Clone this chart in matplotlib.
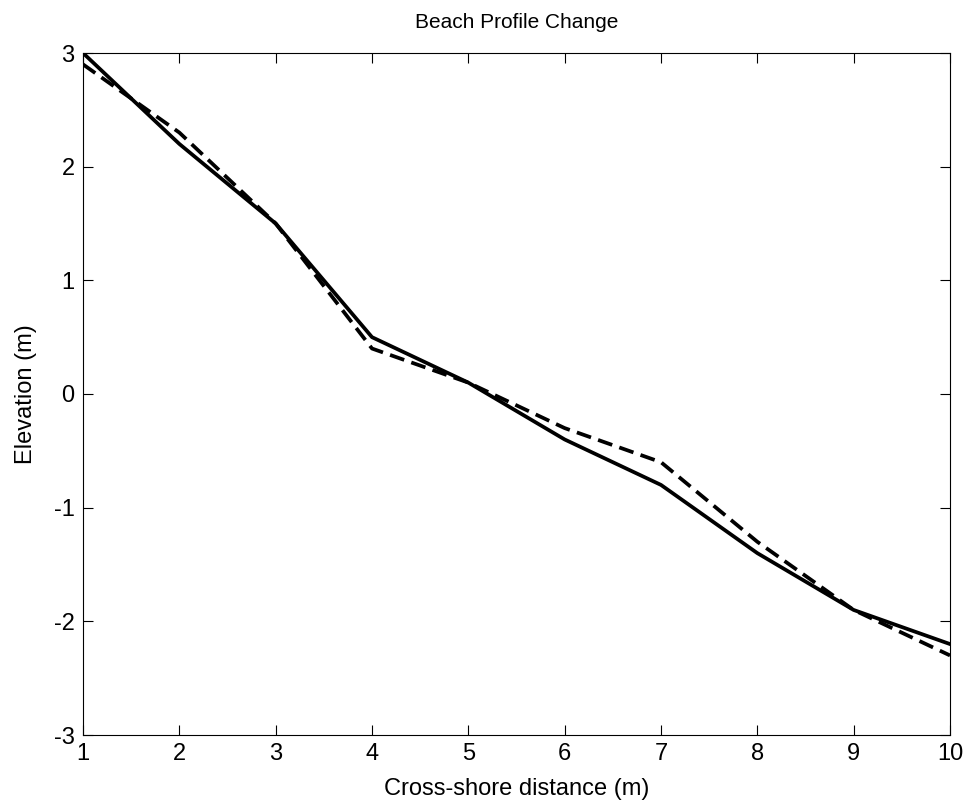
import matplotlib
matplotlib.use("Agg")
import matplotlib.pyplot as plt

plt.rcParams['font.family'] = ['Liberation Sans', 'DejaVu Sans']
plt.rcParams['axes.unicode_minus'] = False

distance = [1, 2, 3, 4, 5, 6, 7, 8, 9, 10]
profile_before = [3.0, 2.2, 1.5, 0.5, 0.1, -0.4, -0.8, -1.4, -1.9, -2.2]
profile_after = [2.9, 2.3, 1.5, 0.4, 0.1, -0.3, -0.6, -1.3, -1.9, -2.3]
xticks = [1, 2, 3, 4, 5, 6, 7, 8, 9, 10]
yticks = [-3, -2, -1, 0, 1, 2, 3]

fig = plt.figure(figsize=(9.69, 8.08), dpi=100)
ax = fig.add_axes([83/969, 73/808, (950-83)/969, (735-53)/808])
ax.plot(distance, profile_before, color='black', linewidth=2.7, linestyle='-')
ax.plot(distance, profile_after, color='black', linewidth=2.7, linestyle='--', dashes=(4, 2))
ax.set_xlim(1, 10)
ax.set_ylim(-3, 3)
ax.set_xticks(xticks)
ax.set_yticks(yticks)
ax.tick_params(direction='in', top=True, right=True, labelsize=17, length=7, width=0.8, pad=6)
for s in ax.spines.values():
    s.set_linewidth(0.8)
ax.set_title('Beach Profile Change', fontsize=15, pad=18)
ax.set_xlabel('Cross-shore distance (m)', fontsize=17, labelpad=9)
ax.set_ylabel('Elevation (m)', fontsize=17, labelpad=12)
fig.savefig('out.png', dpi=100)
